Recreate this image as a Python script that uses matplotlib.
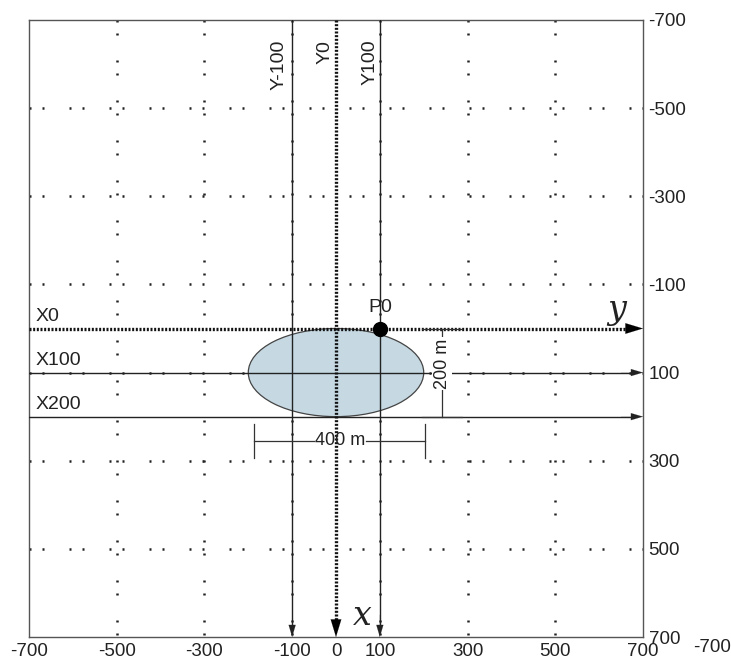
import matplotlib
matplotlib.use("Agg")
import matplotlib.pyplot as plt
from matplotlib.patches import Ellipse

plt.rcParams['font.family'] = ['Liberation Sans', 'DejaVu Sans']

# ---- data ----
x_ticks = [-700, -500, -300, -100, 0, 100, 300, 500, 700]
y_ticks = [-700, -500, -300, -100, 100, 300, 500, 700]
grid_vals = [-500, -300, -100, 100, 300, 500]
profile_y = [-100, 0, 100]          # vertical profiles Y-100, Y0, Y100
profile_y_labels = ["Y-100", "Y0", "Y100"]
profile_x = [0, 100, 200]           # horizontal profiles X0, X100, X200
profile_x_labels = ["X0", "X100", "X200"]
ellipse_center = (0, 100)
ellipse_width = 400
ellipse_height = 200
p0 = (100, 0)

fig = plt.figure(figsize=(7.31, 6.62), dpi=100)
ax = fig.add_axes([29/731, 25/662, 614/731, 617/662])
ax.set_xlim(-700, 700)
ax.set_ylim(700, -700)

for s in ax.spines.values():
    s.set_color('#555555')
    s.set_linewidth(1.0)

ax.set_xticks(x_ticks)
ax.set_xticklabels([str(v) for v in x_ticks])
ax.yaxis.tick_right()
ax.set_yticks(y_ticks)
ax.set_yticklabels([str(v) for v in y_ticks])
ax.tick_params(length=0, labelsize=13.5, colors='#222222', pad=4)

# dotted grid
dot_style = (0, (0.8, 4.4, 0.8, 10))
for g in grid_vals:
    ax.plot([-700, 700], [g, g], color='#222222', lw=1.8, linestyle=dot_style, zorder=1)
    ax.plot([g, g], [-700, 700], color='#222222', lw=1.8, linestyle=dot_style, zorder=1)

# ellipse
ax.add_patch(Ellipse(ellipse_center, ellipse_width, ellipse_height,
                     facecolor='#c6d9e3', edgecolor='#444444', lw=0.9, zorder=2))

big_head = '-|>,head_length=1.25,head_width=0.38'
small_head = '-|>,head_length=0.85,head_width=0.25'

# horizontal profiles
for xv, lab in zip(profile_x, profile_x_labels):
    if xv == 0:
        ax.plot([-700, 670], [xv, xv], color='#111111', lw=2.4,
                linestyle=(0, (0.6, 0.5)), zorder=3)
        ax.annotate('', xy=(700, xv), xytext=(630, xv),
                    arrowprops=dict(arrowstyle=big_head, color='black', lw=0.1,
                                    shrinkA=0, shrinkB=0), zorder=4)
    else:
        ax.plot([-700, 680], [xv, xv], color='#222222', lw=1.0, zorder=3)
        ax.annotate('', xy=(700, xv), xytext=(650, xv),
                    arrowprops=dict(arrowstyle=small_head, color='#222222', lw=0.1,
                                    shrinkA=0, shrinkB=0), zorder=4)
    ax.text(-685, xv - 8, lab, fontsize=14, ha='left', va='bottom', color='#222222', zorder=5)

# vertical profiles
for yv, lab in zip(profile_y, profile_y_labels):
    if yv == 0:
        ax.plot([yv, yv], [-700, 670], color='#111111', lw=2.4,
                linestyle=(0, (0.6, 0.5)), zorder=3)
        ax.annotate('', xy=(yv, 700), xytext=(yv, 630),
                    arrowprops=dict(arrowstyle=big_head, color='black', lw=0.1,
                                    shrinkA=0, shrinkB=0), zorder=4)
    else:
        ax.plot([yv, yv], [-700, 680], color='#222222', lw=1.0, zorder=3)
        ax.annotate('', xy=(yv, 700), xytext=(yv, 650),
                    arrowprops=dict(arrowstyle=small_head, color='#222222', lw=0.1,
                                    shrinkA=0, shrinkB=0), zorder=4)

ax.text(-130, -655, profile_y_labels[0], rotation=90, fontsize=14, ha='center', va='top', color='#222222')
ax.text(-25, -655, profile_y_labels[1], rotation=90, fontsize=14, ha='center', va='top', color='#222222')
ax.text(78, -655, profile_y_labels[2], rotation=90, fontsize=14, ha='center', va='top', color='#222222')

# P0 point
ax.plot([p0[0]], [p0[1]], 'o', color='black', markersize=10, zorder=6)
ax.text(p0[0], p0[1] - 28, "P0", fontsize=14, ha='center', va='bottom', color='#222222', zorder=6)

# axis letters
ax.text(640, -5, "y", fontsize=24, family='DejaVu Serif', style='italic',
        ha='center', va='bottom', color='#222222', zorder=6)
ax.text(60, 688, "x", fontsize=24, family='DejaVu Serif', style='italic',
        ha='center', va='bottom', color='#222222', zorder=6)

# 400 m dimension
dim_y = 255
ax.plot([-187, -50], [dim_y, dim_y], color='#333333', lw=0.9, zorder=3)
ax.plot([68, 203], [dim_y, dim_y], color='#333333', lw=0.9, zorder=3)
ax.plot([-187, -187], [dim_y - 38, dim_y + 38], color='#333333', lw=0.9, zorder=3)
ax.plot([203, 203], [dim_y - 38, dim_y + 38], color='#333333', lw=0.9, zorder=3)
ax.text(9, dim_y, "400 m", fontsize=13, ha='center', va='center', color='#222222', zorder=5)

# 200 m dimension
dim_x = 242
ax.plot([dim_x, dim_x], [0, 200], color='#333333', lw=0.9, zorder=3)
ax.plot([dim_x - 45, dim_x + 45], [0, 0], color='#333333', lw=0.9, zorder=3)
ax.plot([dim_x - 45, dim_x + 45], [200, 200], color='#333333', lw=0.9, zorder=3)
ax.text(dim_x, 80, "200 m", rotation=90, fontsize=13, ha='center', va='center', color='#222222',
        bbox=dict(facecolor='white', edgecolor='none', pad=1.0), zorder=5)

# extra label at bottom right
fig.text(712/731, 1 - 648/662, "-700", fontsize=13.5, ha='center', va='center', color='#222222')

fig.savefig("out.png", dpi=100)
